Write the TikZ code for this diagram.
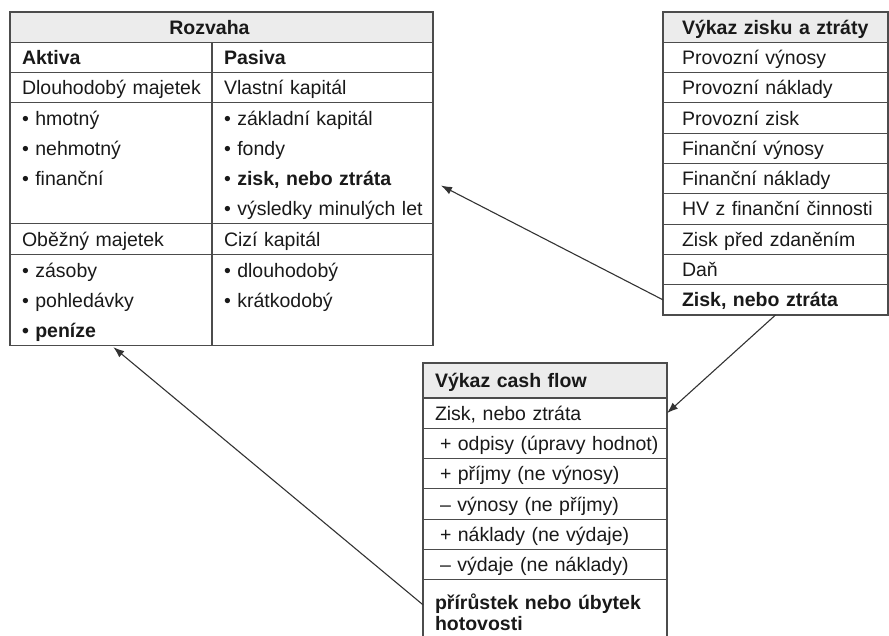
\documentclass[tikz,border=0pt]{standalone}
\usepackage{fontspec}
\setmainfont{Liberation Sans}
\usetikzlibrary{positioning, arrows.meta}
\hyphenpenalty=10000
\exhyphenpenalty=10000

\tikzset{
  cell/.style={draw=black!70, line width=1.1pt, outer sep=0pt, inner xsep=12pt, inner ysep=0pt,
    minimum height=30.3pt, text height=18pt, text depth=4pt, align=left, text=black!90,
    font=\fontsize{19.5}{23}\selectfont},
  bold/.style={font=\fontsize{19.5}{23}\selectfont\bfseries},
  head/.style={cell, bold, fill=gray!15},
  items/.style={cell, text height=23pt, font=\fontsize{19.5}{30}\selectfont},
  flow/.style={draw=black!80, line width=1.1pt, -{Latex[length=11pt,width=8pt]}},
}

\begin{document}
\begin{tikzpicture}[x=1pt, y=-1pt]
\useasboundingbox (0,0) rectangle (889,635);

% Rozvaha
\node[head, anchor=north west, text width=399pt, align=center] (roz) at (10,12) {\hspace*{-24pt}Rozvaha};
\node[cell, bold, text width=178pt, anchor=north west] (aktiva) at (roz.south west) {Aktiva};
\node[cell, bold, text width=197pt, right=0pt of aktiva] (pasiva) {Pasiva};
\node[cell, text width=178pt, below=0pt of aktiva] (dlm) {\mbox{Dlouhodobý majetek}};
\node[cell, text width=197pt, below=0pt of pasiva] (vk) {Vlastní kapitál};
\node[items, text width=178pt, text depth=98pt, below=0pt of dlm] (dlmList) {• hmotný\\ • nehmotný\\ • finanční};
\node[items, text width=197pt, text depth=98pt, below=0pt of vk] (vkList) {• základní kapitál\\ • fondy\\ • \textbf{zisk, nebo ztráta}\\ \mbox{• výsledky minulých let}};
\node[cell, text width=178pt, below=0pt of dlmList] (obm) {Oběžný majetek};
\node[cell, text width=197pt, below=0pt of vkList] (ck) {Cizí kapitál};
\node[items, text width=178pt, text depth=68pt, below=0pt of obm] (obmList) {• zásoby\\ • pohledávky\\ \textbf{• peníze}};
\node[items, text width=197pt, text depth=68pt, below=0pt of ck] (ckList) {• dlouhodobý\\ • krátkodobý};

% Vykaz zisku a ztraty
\node[head, inner xsep=19pt, text width=187pt, anchor=north west] (vz) at (663,12) {\mbox{Výkaz zisku a ztráty}};
\node[cell, inner xsep=19pt, text width=187pt, below=0pt of vz] (vzRev) {Provozní výnosy};
\node[cell, inner xsep=19pt, text width=187pt, below=0pt of vzRev] (vzCost) {Provozní náklady};
\node[cell, inner xsep=19pt, text width=187pt, below=0pt of vzCost] (vzOp) {Provozní zisk};
\node[cell, inner xsep=19pt, text width=187pt, below=0pt of vzOp] (vzFinRev) {Finanční výnosy};
\node[cell, inner xsep=19pt, text width=187pt, below=0pt of vzFinRev] (vzFinCost) {Finanční náklady};
\node[cell, inner xsep=19pt, text width=187pt, below=0pt of vzFinCost] (vzFin) {\mbox{HV z finanční činnosti}};
\node[cell, inner xsep=19pt, text width=187pt, below=0pt of vzFin] (vzEbt) {Zisk před zdaněním};
\node[cell, inner xsep=19pt, text width=187pt, below=0pt of vzEbt] (vzTax) {Daň};
\node[cell, bold, inner xsep=19pt, text width=187pt, below=0pt of vzTax] (vzZisk) {Zisk, nebo ztráta};

% Vykaz cash flow
\node[head, minimum height=35pt, text width=220pt, anchor=north west] (cf) at (423,363) {Výkaz cash flow};
\node[cell, text width=220pt, below=0pt of cf] (cfZisk) {Zisk, nebo ztráta};
\node[cell, text width=220pt, below=0pt of cfZisk] (cfDep) {\mbox{\hspace*{5pt}+ odpisy (úpravy hodnot)}};
\node[cell, text width=220pt, below=0pt of cfDep] (cfInc) {\mbox{\hspace*{5pt}+ příjmy (ne výnosy)}};
\node[cell, text width=220pt, below=0pt of cfInc] (cfRev) {\mbox{\hspace*{5pt}– výnosy (ne příjmy)}};
\node[cell, text width=220pt, below=0pt of cfRev] (cfExp) {\mbox{\hspace*{5pt}+ náklady (ne výdaje)}};
\node[cell, text width=220pt, below=0pt of cfExp] (cfOut) {\mbox{\hspace*{5pt}– výdaje (ne náklady)}};
\node[cell, text width=220pt, text height=30pt, text depth=60pt,
  font=\fontsize{19.5}{21}\selectfont\bfseries, below=0pt of cfOut] (cfRes) {přírůstek nebo úbytek\\ hotovosti};

% vazby
\draw[flow, shorten >=9pt] (vzZisk.west) -- ([yshift=-18pt]vkList.east);
\draw[flow] (vzZisk.south) -- (cfZisk.east);
\draw[flow, shorten >=3pt] ([yshift=-25pt]cfRes.north west) -- (obmList.south);
\end{tikzpicture}
\end{document}
